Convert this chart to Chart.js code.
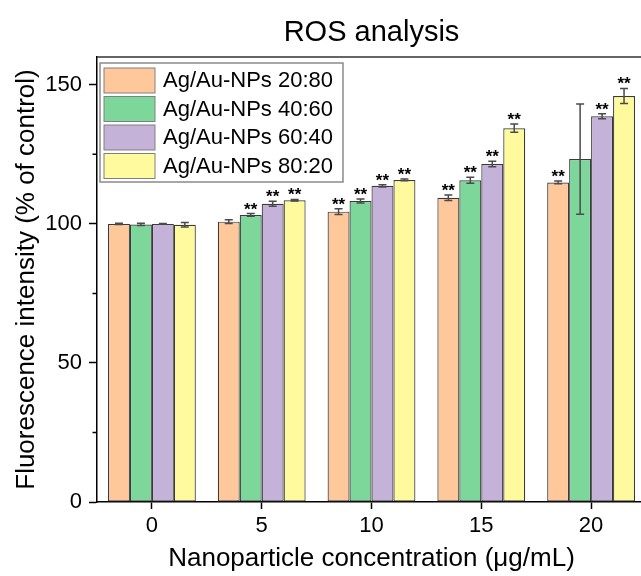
<!DOCTYPE html>
<html>
<head>
<meta charset="utf-8">
<title>ROS analysis</title>
<script src="https://cdn.jsdelivr.net/npm/chart.js@4.4.1/dist/chart.umd.min.js"></script>
<style>
  html, body { margin: 0; padding: 0; background: #fff; overflow: hidden; }
  #wrap { width: 680px; height: 576px; }
</style>
</head>
<body>
<div id="wrap"><canvas id="ros" width="680" height="576"></canvas></div>
<script>
// ── Data ─────────────────────────────────────────────────────
const CONCENTRATIONS = ['0', '5', '10', '15', '20'];

const SERIES_NAMES = ['Ag/Au-NPs 20:80', 'Ag/Au-NPs 40:60', 'Ag/Au-NPs 60:40', 'Ag/Au-NPs 80:20'];

const ROS_20_80 = [100.0, 100.8, 104.4, 109.4, 114.9];
const ROS_40_60 = [99.8, 103.2, 108.2, 115.7, 123.3];
const ROS_60_40 = [100.0, 107.2, 113.7, 121.5, 138.7];
const ROS_80_20 = [99.7, 108.5, 115.8, 134.4, 146.0];

const ERR_20_80 = [0.2, 0.7, 1.0, 1.0, 0.5];
const ERR_40_60 = [0.4, 0.5, 0.7, 1.1, 19.8];
const ERR_60_40 = [0.1, 0.9, 0.4, 1.0, 0.9];
const ERR_80_20 = [0.8, 0.3, 0.3, 1.5, 2.7];

const SIG_20_80 = ['', '', '**', '**', '**'];
const SIG_40_60 = ['', '**', '**', '**', ''];
const SIG_60_40 = ['', '**', '**', '**', '**'];
const SIG_80_20 = ['', '**', '**', '**', '**'];

const Y_TICKS_MAJOR = 50;   // labelled step, minor tick halfway

// ── Style ────────────────────────────────────────────────────
const COLORS = ['#FFC89B', '#7DD79B', '#C5B2D8', '#FFFA9E'];
const FONT = "'Liberation Sans', Arial, Helvetica, sans-serif";

const values = [ROS_20_80, ROS_40_60, ROS_60_40, ROS_80_20];
const errors = [ERR_20_80, ERR_40_60, ERR_60_40, ERR_80_20];
const marks  = [SIG_20_80, SIG_40_60, SIG_60_40, SIG_80_20];

// error bars + significance stars on top of each bar
const errorBarPlugin = {
    id: 'errorBars',
    afterDatasetsDraw(chart) {
        const ctx = chart.ctx;
        const y = chart.scales.y;
        ctx.save();
        chart.data.datasets.forEach((ds, i) => {
            const meta = chart.getDatasetMeta(i);
            meta.data.forEach((bar, j) => {
                const v = ds.data[j];
                const e = errors[i][j];
                const top = y.getPixelForValue(v + e);
                const bot = y.getPixelForValue(v - e);
                ctx.strokeStyle = '#4a4a4a';
                ctx.lineWidth = 1.5;
                ctx.beginPath();
                ctx.moveTo(bar.x, top);
                ctx.lineTo(bar.x, bot);
                ctx.moveTo(bar.x - 4, top);
                ctx.lineTo(bar.x + 4, top);
                ctx.moveTo(bar.x - 4, bot);
                ctx.lineTo(bar.x + 4, bot);
                ctx.stroke();

                const s = marks[i][j];
                if (s) {
                    ctx.fillStyle = '#000';
                    ctx.font = 'bold 17px ' + FONT;
                    ctx.textAlign = 'center';
                    ctx.textBaseline = 'alphabetic';
                    ctx.fillText(s, bar.x, top + 1);
                }
            });
        });
        ctx.restore();
    }
};

// frame, minor ticks, title and boxed legend
const decorPlugin = {
    id: 'decor',
    afterDraw(chart) {
        const ctx = chart.ctx;
        const a = chart.chartArea;
        const y = chart.scales.y;
        ctx.save();

        // top / right frame
        ctx.strokeStyle = '#333';
        ctx.lineWidth = 1.5;
        ctx.beginPath();
        ctx.moveTo(a.left, a.top);
        ctx.lineTo(a.right, a.top);
        ctx.lineTo(a.right, a.bottom);
        ctx.stroke();

        // minor ticks between the labelled ones
        ctx.strokeStyle = '#000';
        ctx.beginPath();
        for (let k = 0; k < y.ticks.length - 1; k++) {
            const mid = (y.ticks[k].value + y.ticks[k + 1].value) / 2;
            const py = y.getPixelForValue(mid);
            ctx.moveTo(a.left - 4.5, py);
            ctx.lineTo(a.left, py);
        }
        ctx.stroke();

        // title
        ctx.fillStyle = '#000';
        ctx.font = '29px ' + FONT;
        ctx.textAlign = 'center';
        ctx.textBaseline = 'alphabetic';
        ctx.fillText('ROS analysis', (a.left + a.right) / 2, 41);

        // legend
        const lx = a.left + 3, ly = a.top + 6;
        const lw = 243, lh = 119;
        ctx.fillStyle = '#fff';
        ctx.fillRect(lx, ly, lw, lh);
        ctx.strokeStyle = '#8a8a8a';
        ctx.lineWidth = 1.5;
        ctx.strokeRect(lx, ly, lw, lh);
        ctx.font = '22px ' + FONT;
        ctx.textAlign = 'left';
        ctx.textBaseline = 'middle';
        chart.data.datasets.forEach((ds, i) => {
            const ry = ly + 5 + i * 28.5;
            ctx.fillStyle = ds.backgroundColor;
            ctx.fillRect(lx + 4, ry, 51, 25);
            ctx.strokeStyle = '#808080';
            ctx.lineWidth = 1;
            ctx.strokeRect(lx + 4, ry, 51, 25);
            ctx.fillStyle = '#000';
            ctx.fillText(ds.label, lx + 63, ry + 13);
        });
        ctx.restore();
    }
};

// ── Chart ────────────────────────────────────────────────────
new Chart(document.getElementById('ros'), {
    type: 'bar',
    data: {
        labels: CONCENTRATIONS,
        datasets: SERIES_NAMES.map((name, i) => ({
            label: name,
            data: values[i],
            backgroundColor: COLORS[i],
            borderColor: '#3a3a3a',
            borderWidth: 1.2,
            borderSkipped: false,
            categoryPercentage: 0.8,
            barPercentage: 1.0,
        })),
    },
    options: {
        responsive: false,
        animation: false,
        layout: { padding: { top: 57, right: 34, left: 0, bottom: 0 } },
        plugins: {
            legend: { display: false },
            title: { display: false },
            tooltip: { enabled: false },
        },
        scales: {
            x: {
                afterFit(scale) { scale.height = 74; },
                grid: {
                    offset: false,
                    drawOnChartArea: false,
                    tickLength: 7,
                    tickColor: '#000',
                    tickWidth: 1.5,
                },
                border: { color: '#000', width: 1.5 },
                ticks: {
                    color: '#000',
                    padding: 4,
                    maxRotation: 0,
                    font: { family: FONT, size: 22 },
                },
                title: {
                    display: true,
                    text: 'Nanoparticle concentration (μg/mL)',
                    color: '#000',
                    font: { family: FONT, size: 26 },
                    padding: { top: 0, bottom: 2 },
                },
            },
            y: {
                min: 0,
                max: 160,
                afterFit(scale) { scale.width = 97; },
                grid: {
                    drawOnChartArea: false,
                    tickLength: 8,
                    tickColor: '#000',
                    tickWidth: 1.5,
                },
                border: { color: '#000', width: 1.5 },
                ticks: {
                    stepSize: Y_TICKS_MAJOR,
                    includeBounds: false,
                    color: '#000',
                    padding: 7,
                    font: { family: FONT, size: 22 },
                },
                title: {
                    display: true,
                    text: 'Fluorescence intensity (% of control)',
                    color: '#000',
                    font: { family: FONT, size: 26 },
                    padding: { top: 11, bottom: 0 },
                },
            },
        },
    },
    plugins: [errorBarPlugin, decorPlugin],
});
</script>
</body>
</html>
